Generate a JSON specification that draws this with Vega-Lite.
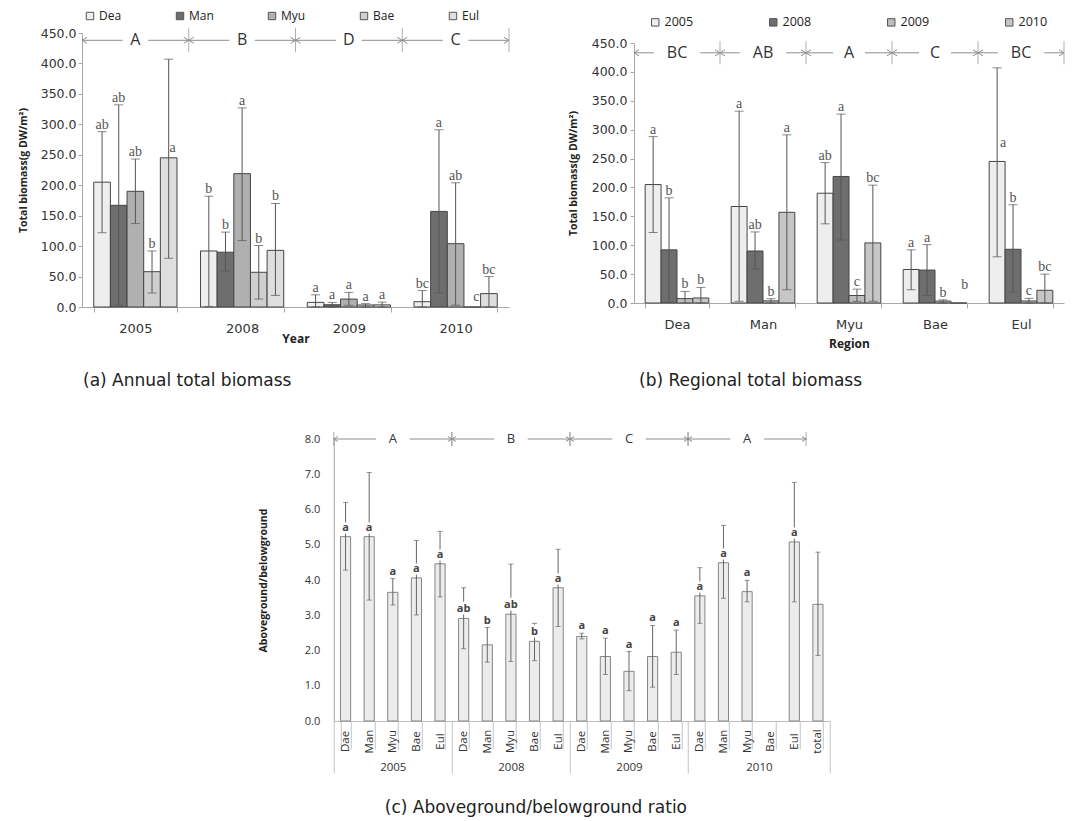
{
  "$schema": "https://vega.github.io/schema/vega-lite/v6.json",
  "background": "white",
  "padding": {"left": 18, "top": 10, "right": 10, "bottom": 5},
  "config": {
    "view": {"stroke": null},
    "axis": {"grid": false, "domainColor": "#a8a8a8", "tickColor": "#a8a8a8", "labelColor": "#333333", "titleColor": "#222222", "labelOverlap": false},
    "legend": {"padding": 0}
  },
  "datasets": {
    "biomass": [
      {"year": "2005", "region": "Dea", "mean": 205, "lo": 122, "hi": 288, "la": "ab", "lb": "a"},
      {"year": "2005", "region": "Man", "mean": 167, "lo": 3, "hi": 332, "la": "ab", "lb": "a"},
      {"year": "2005", "region": "Myu", "mean": 190, "lo": 137, "hi": 243, "la": "ab", "lb": "ab"},
      {"year": "2005", "region": "Bae", "mean": 58, "lo": 23, "hi": 92, "la": "b", "lb": "a"},
      {"year": "2005", "region": "Eul", "mean": 245, "lo": 80, "hi": 407, "la": "a", "lb": "a"},
      {"year": "2008", "region": "Dea", "mean": 92, "lo": 1, "hi": 182, "la": "b", "lb": "b"},
      {"year": "2008", "region": "Man", "mean": 90, "lo": 59, "hi": 123, "la": "b", "lb": "ab"},
      {"year": "2008", "region": "Myu", "mean": 219, "lo": 109, "hi": 327, "la": "a", "lb": "a"},
      {"year": "2008", "region": "Bae", "mean": 57, "lo": 13, "hi": 101, "la": "b", "lb": "a"},
      {"year": "2008", "region": "Eul", "mean": 93, "lo": 19, "hi": 170, "la": "b", "lb": "b"},
      {"year": "2009", "region": "Dea", "mean": 7.6, "lo": 0, "hi": 20, "la": "a", "lb": "b"},
      {"year": "2009", "region": "Man", "mean": 3.7, "lo": 0, "hi": 7.5, "la": "a", "lb": "b"},
      {"year": "2009", "region": "Myu", "mean": 13, "lo": 2.8, "hi": 24, "la": "a", "lb": "c"},
      {"year": "2009", "region": "Bae", "mean": 3.3, "lo": 0, "hi": 5.5, "la": "a", "lb": "b"},
      {"year": "2009", "region": "Eul", "mean": 3.5, "lo": 0, "hi": 8, "la": "a", "lb": "c"},
      {"year": "2010", "region": "Dea", "mean": 8.7, "lo": 0, "hi": 27, "la": "bc", "lb": "b"},
      {"year": "2010", "region": "Man", "mean": 157, "lo": 23, "hi": 291, "la": "a", "lb": "a"},
      {"year": "2010", "region": "Myu", "mean": 104, "lo": 3, "hi": 204, "la": "ab", "lb": "bc"},
      {"year": "2010", "region": "Bae", "mean": 0, "lo": null, "hi": null, "la": "c", "lb": "b"},
      {"year": "2010", "region": "Eul", "mean": 22, "lo": 0, "hi": 50, "la": "bc", "lb": "bc"}
    ],
    "ratio": [
      {"year": "2005", "region": "Dae", "cat": "2005 Dae", "mean": 5.23, "lo": 4.28, "hi": 6.2, "lt": "a"},
      {"year": "2005", "region": "Man", "cat": "2005 Man", "mean": 5.23, "lo": 3.43, "hi": 7.05, "lt": "a"},
      {"year": "2005", "region": "Myu", "cat": "2005 Myu", "mean": 3.65, "lo": 3.29, "hi": 4.04, "lt": "a"},
      {"year": "2005", "region": "Bae", "cat": "2005 Bae", "mean": 4.06, "lo": 3.01, "hi": 5.12, "lt": "a"},
      {"year": "2005", "region": "Eul", "cat": "2005 Eul", "mean": 4.46, "lo": 3.52, "hi": 5.38, "lt": "a"},
      {"year": "2008", "region": "Dae", "cat": "2008 Dae", "mean": 2.91, "lo": 2.05, "hi": 3.78, "lt": "ab"},
      {"year": "2008", "region": "Man", "cat": "2008 Man", "mean": 2.16, "lo": 1.67, "hi": 2.65, "lt": "b"},
      {"year": "2008", "region": "Myu", "cat": "2008 Myu", "mean": 3.03, "lo": 1.69, "hi": 4.45, "lt": "ab"},
      {"year": "2008", "region": "Bae", "cat": "2008 Bae", "mean": 2.26, "lo": 1.71, "hi": 2.77, "lt": "b"},
      {"year": "2008", "region": "Eul", "cat": "2008 Eul", "mean": 3.78, "lo": 2.68, "hi": 4.87, "lt": "a"},
      {"year": "2009", "region": "Dae", "cat": "2009 Dae", "mean": 2.4, "lo": 2.33, "hi": 2.49, "lt": "a"},
      {"year": "2009", "region": "Man", "cat": "2009 Man", "mean": 1.83, "lo": 1.32, "hi": 2.35, "lt": "a"},
      {"year": "2009", "region": "Myu", "cat": "2009 Myu", "mean": 1.41, "lo": 0.86, "hi": 1.97, "lt": "a"},
      {"year": "2009", "region": "Bae", "cat": "2009 Bae", "mean": 1.83, "lo": 0.96, "hi": 2.71, "lt": "a"},
      {"year": "2009", "region": "Eul", "cat": "2009 Eul", "mean": 1.95, "lo": 1.32, "hi": 2.58, "lt": "a"},
      {"year": "2010", "region": "Dae", "cat": "2010 Dae", "mean": 3.55, "lo": 2.77, "hi": 4.35, "lt": "a"},
      {"year": "2010", "region": "Man", "cat": "2010 Man", "mean": 4.49, "lo": 3.48, "hi": 5.55, "lt": "a"},
      {"year": "2010", "region": "Myu", "cat": "2010 Myu", "mean": 3.67, "lo": 3.38, "hi": 3.99, "lt": "a"},
      {"year": "2010", "region": "Bae", "cat": "2010 Bae", "mean": null, "lo": null, "hi": null, "lt": ""},
      {"year": "2010", "region": "Eul", "cat": "2010 Eul", "mean": 5.08, "lo": 3.38, "hi": 6.77, "lt": "a"},
      {"year": "", "region": "total", "cat": "total", "mean": 3.31, "lo": 1.86, "hi": 4.79, "lt": ""}
    ],
    "yearGroups": [
      {"g": "A", "s": 0, "e": 1, "c": 0.5},
      {"g": "B", "s": 1, "e": 2, "c": 1.5},
      {"g": "D", "s": 2, "e": 3, "c": 2.5},
      {"g": "C", "s": 3, "e": 4, "c": 3.5}
    ],
    "regionGroups": [
      {"g": "BC", "s": 0, "e": 1, "c": 0.5},
      {"g": "AB", "s": 1, "e": 2, "c": 1.5},
      {"g": "A", "s": 2, "e": 3, "c": 2.5},
      {"g": "C", "s": 3, "e": 4, "c": 3.5},
      {"g": "BC", "s": 4, "e": 5, "c": 4.5}
    ],
    "ratioGroups": [
      {"g": "A", "s": 0, "e": 5, "c": 2.5},
      {"g": "B", "s": 5, "e": 10, "c": 7.5},
      {"g": "C", "s": 10, "e": 15, "c": 12.5},
      {"g": "A", "s": 15, "e": 20, "c": 17.5}
    ]
  },
  "spacing": 42,
  "center": true,
  "vconcat": [
    {
      "spacing": 57,
      "resolve": {"scale": {"fill": "independent", "xOffset": "independent"}, "legend": {"fill": "independent"}},
      "hconcat": [
        {
          "width": 427,
          "height": 274,
          "title": {"text": "(a) Annual total biomass", "orient": "bottom", "anchor": "start", "frame": "group", "offset": 29, "dx": 1, "font": "DejaVu Sans", "fontSize": 17, "fontWeight": "normal", "color": "#222222"},
          "resolve": {"scale": {"x": "independent"}},
          "layer": [
            {
              "data": {"name": "biomass"},
              "encoding": {
                "x": {"field": "year", "type": "nominal",
                  "scale": {"domain": ["2005", "2008", "2009", "2010"], "paddingInner": 0.22, "paddingOuter": 0.11},
                  "axis": {"title": "Year", "labelAngle": 0, "tickBand": "extent", "tickSize": 5, "labelPadding": 10, "labelFont": "DejaVu Sans", "labelFontSize": 13, "titleFont": "Open Sans", "titleFontSize": 12, "titleFontWeight": "bold", "titlePadding": -2}},
                "xOffset": {"field": "region", "type": "nominal", "scale": {"domain": ["Dea", "Man", "Myu", "Bae", "Eul"], "paddingInner": 0, "paddingOuter": 0}}
              },
              "layer": [
                {
                  "mark": {"type": "bar", "stroke": "#444444", "strokeWidth": 1},
                  "encoding": {
                    "y": {"field": "mean", "type": "quantitative", "scale": {"domain": [0, 450], "nice": false},
                      "axis": {"title": "Total biomass(g DW/m²)", "values": [0, 50, 100, 150, 200, 250, 300, 350, 400, 450], "format": ".1f", "labelOverlap": false, "tickSize": 4, "labelPadding": 2, "labelFont": "DejaVu Sans", "labelFontSize": 12.5, "titleFont": "Open Sans", "titleFontSize": 10.5, "titleFontWeight": "bold", "titlePadding": 12}},
                    "fill": {"field": "region", "type": "nominal",
                      "scale": {"domain": ["Dea", "Man", "Myu", "Bae", "Eul"], "range": ["#eeeeee", "#6e6e6e", "#b0b0b0", "#cfcfcf", "#dedede"]},
                      "legend": {"orient": "none", "legendX": 2, "legendY": -23, "direction": "horizontal", "title": null, "symbolType": "square", "symbolSize": 55, "symbolStrokeColor": "#555555", "symbolStrokeWidth": 1, "labelFont": "Open Sans", "labelFontSize": 12, "labelOffset": 3, "columnPadding": 52, "labelColor": "#222222"}}
                  }
                },
                {
                  "transform": [{"filter": "datum.hi != null"}],
                  "mark": {"type": "rule", "color": "#555555", "strokeWidth": 1},
                  "encoding": {"y": {"field": "lo", "type": "quantitative", "axis": {"title": "Total biomass(g DW/m²)", "values": [0, 50, 100, 150, 200, 250, 300, 350, 400, 450], "format": ".1f", "labelOverlap": false, "tickSize": 4, "labelPadding": 2, "labelFont": "DejaVu Sans", "labelFontSize": 12.5, "titleFont": "Open Sans", "titleFontSize": 10.5, "titleFontWeight": "bold", "titlePadding": 12}}, "y2": {"field": "hi"}}
                },
                {
                  "transform": [{"filter": "datum.hi != null"}],
                  "mark": {"type": "tick", "color": "#555555", "size": 9, "thickness": 1},
                  "encoding": {"y": {"field": "hi", "type": "quantitative", "axis": {"title": "Total biomass(g DW/m²)", "values": [0, 50, 100, 150, 200, 250, 300, 350, 400, 450], "format": ".1f", "labelOverlap": false, "tickSize": 4, "labelPadding": 2, "labelFont": "DejaVu Sans", "labelFontSize": 12.5, "titleFont": "Open Sans", "titleFontSize": 10.5, "titleFontWeight": "bold", "titlePadding": 12}}}
                },
                {
                  "transform": [{"filter": "datum.hi != null"}],
                  "mark": {"type": "tick", "color": "#555555", "size": 9, "thickness": 1},
                  "encoding": {"y": {"field": "lo", "type": "quantitative", "axis": {"title": "Total biomass(g DW/m²)", "values": [0, 50, 100, 150, 200, 250, 300, 350, 400, 450], "format": ".1f", "labelOverlap": false, "tickSize": 4, "labelPadding": 2, "labelFont": "DejaVu Sans", "labelFontSize": 12.5, "titleFont": "Open Sans", "titleFontSize": 10.5, "titleFontWeight": "bold", "titlePadding": 12}}}
                },
                {
                  "transform": [{"filter": "datum.hi != null && !(datum.year == '2005' && datum.region == 'Eul')"}],
                  "mark": {"type": "text", "font": "Liberation Serif", "fontSize": 14, "color": "#555555", "baseline": "alphabetic", "dy": -3},
                  "encoding": {"y": {"field": "hi", "type": "quantitative", "axis": {"title": "Total biomass(g DW/m²)", "values": [0, 50, 100, 150, 200, 250, 300, 350, 400, 450], "format": ".1f", "labelOverlap": false, "tickSize": 4, "labelPadding": 2, "labelFont": "DejaVu Sans", "labelFontSize": 12.5, "titleFont": "Open Sans", "titleFontSize": 10.5, "titleFontWeight": "bold", "titlePadding": 12}}, "text": {"field": "la"}}
                },
                {
                  "transform": [{"filter": "datum.hi == null || (datum.year == '2005' && datum.region == 'Eul')"}],
                  "mark": {"type": "text", "font": "Liberation Serif", "fontSize": 14, "color": "#555555", "baseline": "alphabetic", "dy": -6, "dx": 4},
                  "encoding": {"y": {"field": "mean", "type": "quantitative", "axis": {"title": "Total biomass(g DW/m²)", "values": [0, 50, 100, 150, 200, 250, 300, 350, 400, 450], "format": ".1f", "labelOverlap": false, "tickSize": 4, "labelPadding": 2, "labelFont": "DejaVu Sans", "labelFontSize": 12.5, "titleFont": "Open Sans", "titleFontSize": 10.5, "titleFontWeight": "bold", "titlePadding": 12}}, "text": {"field": "la"}}
                }
              ]
            },
            {
              "data": {"name": "yearGroups"},
              "layer": [
                {
                  "mark": {"type": "rule", "color": "#8c8c8c", "strokeWidth": 1},
                  "encoding": {"x": {"field": "s", "type": "quantitative", "scale": {"domain": [0, 4], "nice": false, "zero": false}, "axis": null}, "x2": {"field": "e"}, "y": {"datum": 438, "type": "quantitative", "axis": {"title": "Total biomass(g DW/m²)", "values": [0, 50, 100, 150, 200, 250, 300, 350, 400, 450], "format": ".1f", "labelOverlap": false, "tickSize": 4, "labelPadding": 2, "labelFont": "DejaVu Sans", "labelFontSize": 12.5, "titleFont": "Open Sans", "titleFontSize": 10.5, "titleFontWeight": "bold", "titlePadding": 12}}}
                },
                {
                  "mark": {"type": "point", "shape": "M-1.6,-1H1.6V1H-1.6Z", "size": 256, "filled": true, "fill": "white", "strokeWidth": 0, "opacity": 1},
                  "encoding": {"x": {"field": "c", "type": "quantitative", "axis": null}, "y": {"datum": 438, "type": "quantitative", "axis": {"title": "Total biomass(g DW/m²)", "values": [0, 50, 100, 150, 200, 250, 300, 350, 400, 450], "format": ".1f", "labelOverlap": false, "tickSize": 4, "labelPadding": 2, "labelFont": "DejaVu Sans", "labelFontSize": 12.5, "titleFont": "Open Sans", "titleFontSize": 10.5, "titleFontWeight": "bold", "titlePadding": 12}}}
                },
                {
                  "mark": {"type": "point", "shape": "M1,-0.6L0,0L1,0.6", "filled": false, "size": 100, "stroke": "#8c8c8c", "strokeWidth": 1, "opacity": 1},
                  "encoding": {"x": {"field": "s", "type": "quantitative", "axis": null}, "y": {"datum": 438, "type": "quantitative", "axis": {"title": "Total biomass(g DW/m²)", "values": [0, 50, 100, 150, 200, 250, 300, 350, 400, 450], "format": ".1f", "labelOverlap": false, "tickSize": 4, "labelPadding": 2, "labelFont": "DejaVu Sans", "labelFontSize": 12.5, "titleFont": "Open Sans", "titleFontSize": 10.5, "titleFontWeight": "bold", "titlePadding": 12}}}
                },
                {
                  "mark": {"type": "point", "shape": "M-1,-0.6L0,0L-1,0.6", "filled": false, "size": 100, "stroke": "#8c8c8c", "strokeWidth": 1, "opacity": 1},
                  "encoding": {"x": {"field": "e", "type": "quantitative", "axis": null}, "y": {"datum": 438, "type": "quantitative", "axis": {"title": "Total biomass(g DW/m²)", "values": [0, 50, 100, 150, 200, 250, 300, 350, 400, 450], "format": ".1f", "labelOverlap": false, "tickSize": 4, "labelPadding": 2, "labelFont": "DejaVu Sans", "labelFontSize": 12.5, "titleFont": "Open Sans", "titleFontSize": 10.5, "titleFontWeight": "bold", "titlePadding": 12}}}
                },
                {
                  "mark": {"type": "tick", "orient": "vertical", "size": 24, "thickness": 1, "color": "#8c8c8c"},
                  "encoding": {"x": {"field": "e", "type": "quantitative", "axis": null}, "y": {"datum": 438, "type": "quantitative", "axis": {"title": "Total biomass(g DW/m²)", "values": [0, 50, 100, 150, 200, 250, 300, 350, 400, 450], "format": ".1f", "labelOverlap": false, "tickSize": 4, "labelPadding": 2, "labelFont": "DejaVu Sans", "labelFontSize": 12.5, "titleFont": "Open Sans", "titleFontSize": 10.5, "titleFontWeight": "bold", "titlePadding": 12}}}
                },
                {
                  "mark": {"type": "text", "font": "Open Sans", "fontSize": 16, "color": "#333333"},
                  "encoding": {"x": {"field": "c", "type": "quantitative", "axis": null}, "y": {"datum": 438, "type": "quantitative", "axis": {"title": "Total biomass(g DW/m²)", "values": [0, 50, 100, 150, 200, 250, 300, 350, 400, 450], "format": ".1f", "labelOverlap": false, "tickSize": 4, "labelPadding": 2, "labelFont": "DejaVu Sans", "labelFontSize": 12.5, "titleFont": "Open Sans", "titleFontSize": 10.5, "titleFontWeight": "bold", "titlePadding": 12}}, "text": {"field": "g"}}
                }
              ]
            }
          ]
        },
        {
          "width": 430,
          "height": 270,
          "title": {"text": "(b) Regional total biomass", "orient": "bottom", "anchor": "start", "frame": "group", "offset": 24, "dx": 5, "font": "DejaVu Sans", "fontSize": 17, "fontWeight": "normal", "color": "#222222"},
          "resolve": {"scale": {"x": "independent"}},
          "layer": [
            {
              "data": {"name": "biomass"},
              "encoding": {
                "x": {"field": "region", "type": "nominal",
                  "scale": {"domain": ["Dea", "Man", "Myu", "Bae", "Eul"], "paddingInner": 0.26, "paddingOuter": 0.13},
                  "axis": {"title": "Region", "labelAngle": 0, "tickBand": "extent", "tickSize": 5, "labelPadding": 10, "labelFont": "DejaVu Sans", "labelFontSize": 13, "titleFont": "Open Sans", "titleFontSize": 12, "titleFontWeight": "bold", "titlePadding": 7}},
                "xOffset": {"field": "year", "type": "nominal", "scale": {"domain": ["2005", "2008", "2009", "2010"], "paddingInner": 0, "paddingOuter": 0}}
              },
              "layer": [
                {
                  "mark": {"type": "bar", "stroke": "#444444", "strokeWidth": 1},
                  "encoding": {
                    "y": {"field": "mean", "type": "quantitative", "scale": {"domain": [0, 450], "nice": false, "rangeMax": 10},
                      "axis": {"title": "Total biomass(g DW/m²)", "values": [0, 50, 100, 150, 200, 250, 300, 350, 400, 450], "format": ".1f", "labelOverlap": false, "tickSize": 4, "labelPadding": 3, "labelFont": "DejaVu Sans", "labelFontSize": 12.5, "titleFont": "Open Sans", "titleFontSize": 10.5, "titleFontWeight": "bold", "titlePadding": 13}},
                    "fill": {"field": "year", "type": "nominal",
                      "scale": {"domain": ["2005", "2008", "2009", "2010"], "range": ["#eeeeee", "#6e6e6e", "#bdbdbd", "#c6c6c6"]},
                      "legend": {"orient": "none", "legendX": 15, "legendY": -17, "direction": "horizontal", "title": null, "symbolType": "square", "symbolSize": 55, "symbolStrokeColor": "#555555", "symbolStrokeWidth": 1, "labelFont": "Open Sans", "labelFontSize": 12.5, "labelOffset": 3, "columnPadding": 73, "labelColor": "#222222"}}
                  }
                },
                {
                  "transform": [{"filter": "datum.hi != null"}],
                  "mark": {"type": "rule", "color": "#555555", "strokeWidth": 1},
                  "encoding": {"y": {"field": "lo", "type": "quantitative", "axis": {"title": "Total biomass(g DW/m²)", "values": [0, 50, 100, 150, 200, 250, 300, 350, 400, 450], "format": ".1f", "labelOverlap": false, "tickSize": 4, "labelPadding": 3, "labelFont": "DejaVu Sans", "labelFontSize": 12.5, "titleFont": "Open Sans", "titleFontSize": 10.5, "titleFontWeight": "bold", "titlePadding": 13}}, "y2": {"field": "hi"}}
                },
                {
                  "transform": [{"filter": "datum.hi != null"}],
                  "mark": {"type": "tick", "color": "#555555", "size": 9, "thickness": 1},
                  "encoding": {"y": {"field": "hi", "type": "quantitative", "axis": {"title": "Total biomass(g DW/m²)", "values": [0, 50, 100, 150, 200, 250, 300, 350, 400, 450], "format": ".1f", "labelOverlap": false, "tickSize": 4, "labelPadding": 3, "labelFont": "DejaVu Sans", "labelFontSize": 12.5, "titleFont": "Open Sans", "titleFontSize": 10.5, "titleFontWeight": "bold", "titlePadding": 13}}}
                },
                {
                  "transform": [{"filter": "datum.hi != null"}],
                  "mark": {"type": "tick", "color": "#555555", "size": 9, "thickness": 1},
                  "encoding": {"y": {"field": "lo", "type": "quantitative", "axis": {"title": "Total biomass(g DW/m²)", "values": [0, 50, 100, 150, 200, 250, 300, 350, 400, 450], "format": ".1f", "labelOverlap": false, "tickSize": 4, "labelPadding": 3, "labelFont": "DejaVu Sans", "labelFontSize": 12.5, "titleFont": "Open Sans", "titleFontSize": 10.5, "titleFontWeight": "bold", "titlePadding": 13}}}
                },
                {
                  "transform": [{"filter": "datum.hi != null && !(datum.year == '2005' && datum.region == 'Eul')"}],
                  "mark": {"type": "text", "font": "Liberation Serif", "fontSize": 14, "color": "#555555", "baseline": "alphabetic", "dy": -3},
                  "encoding": {"y": {"field": "hi", "type": "quantitative", "axis": {"title": "Total biomass(g DW/m²)", "values": [0, 50, 100, 150, 200, 250, 300, 350, 400, 450], "format": ".1f", "labelOverlap": false, "tickSize": 4, "labelPadding": 3, "labelFont": "DejaVu Sans", "labelFontSize": 12.5, "titleFont": "Open Sans", "titleFontSize": 10.5, "titleFontWeight": "bold", "titlePadding": 13}}, "text": {"field": "lb"}}
                },
                {
                  "transform": [{"filter": "datum.hi == null || (datum.year == '2005' && datum.region == 'Eul')"}],
                  "mark": {"type": "text", "font": "Liberation Serif", "fontSize": 14, "color": "#555555", "baseline": "alphabetic", "dy": -14, "dx": 6},
                  "encoding": {"y": {"field": "mean", "type": "quantitative", "axis": {"title": "Total biomass(g DW/m²)", "values": [0, 50, 100, 150, 200, 250, 300, 350, 400, 450], "format": ".1f", "labelOverlap": false, "tickSize": 4, "labelPadding": 3, "labelFont": "DejaVu Sans", "labelFontSize": 12.5, "titleFont": "Open Sans", "titleFontSize": 10.5, "titleFontWeight": "bold", "titlePadding": 13}}, "text": {"field": "lb"}}
                }
              ]
            },
            {
              "data": {"name": "regionGroups"},
              "layer": [
                {
                  "mark": {"type": "rule", "color": "#8c8c8c", "strokeWidth": 1},
                  "encoding": {"x": {"field": "s", "type": "quantitative", "scale": {"domain": [0, 5], "nice": false, "zero": false}, "axis": null}, "x2": {"field": "e"}, "y": {"datum": 433, "type": "quantitative", "axis": {"title": "Total biomass(g DW/m²)", "values": [0, 50, 100, 150, 200, 250, 300, 350, 400, 450], "format": ".1f", "labelOverlap": false, "tickSize": 4, "labelPadding": 3, "labelFont": "DejaVu Sans", "labelFontSize": 12.5, "titleFont": "Open Sans", "titleFontSize": 10.5, "titleFontWeight": "bold", "titlePadding": 13}}}
                },
                {
                  "transform": [{"filter": "length(datum.g) == 1"}],
                  "mark": {"type": "point", "shape": "M-2,-1H2V1H-2Z", "size": 256, "filled": true, "fill": "white", "strokeWidth": 0, "opacity": 1},
                  "encoding": {"x": {"field": "c", "type": "quantitative", "axis": null}, "y": {"datum": 433, "type": "quantitative", "axis": {"title": "Total biomass(g DW/m²)", "values": [0, 50, 100, 150, 200, 250, 300, 350, 400, 450], "format": ".1f", "labelOverlap": false, "tickSize": 4, "labelPadding": 3, "labelFont": "DejaVu Sans", "labelFontSize": 12.5, "titleFont": "Open Sans", "titleFontSize": 10.5, "titleFontWeight": "bold", "titlePadding": 13}}}
                },
                {
                  "transform": [{"filter": "length(datum.g) > 1"}],
                  "mark": {"type": "point", "shape": "M-2.9,-1H2.9V1H-2.9Z", "size": 256, "filled": true, "fill": "white", "strokeWidth": 0, "opacity": 1},
                  "encoding": {"x": {"field": "c", "type": "quantitative", "axis": null}, "y": {"datum": 433, "type": "quantitative", "axis": {"title": "Total biomass(g DW/m²)", "values": [0, 50, 100, 150, 200, 250, 300, 350, 400, 450], "format": ".1f", "labelOverlap": false, "tickSize": 4, "labelPadding": 3, "labelFont": "DejaVu Sans", "labelFontSize": 12.5, "titleFont": "Open Sans", "titleFontSize": 10.5, "titleFontWeight": "bold", "titlePadding": 13}}}
                },
                {
                  "mark": {"type": "point", "shape": "M1,-0.6L0,0L1,0.6", "filled": false, "size": 100, "stroke": "#8c8c8c", "strokeWidth": 1, "opacity": 1},
                  "encoding": {"x": {"field": "s", "type": "quantitative", "axis": null}, "y": {"datum": 433, "type": "quantitative", "axis": {"title": "Total biomass(g DW/m²)", "values": [0, 50, 100, 150, 200, 250, 300, 350, 400, 450], "format": ".1f", "labelOverlap": false, "tickSize": 4, "labelPadding": 3, "labelFont": "DejaVu Sans", "labelFontSize": 12.5, "titleFont": "Open Sans", "titleFontSize": 10.5, "titleFontWeight": "bold", "titlePadding": 13}}}
                },
                {
                  "mark": {"type": "point", "shape": "M-1,-0.6L0,0L-1,0.6", "filled": false, "size": 100, "stroke": "#8c8c8c", "strokeWidth": 1, "opacity": 1},
                  "encoding": {"x": {"field": "e", "type": "quantitative", "axis": null}, "y": {"datum": 433, "type": "quantitative", "axis": {"title": "Total biomass(g DW/m²)", "values": [0, 50, 100, 150, 200, 250, 300, 350, 400, 450], "format": ".1f", "labelOverlap": false, "tickSize": 4, "labelPadding": 3, "labelFont": "DejaVu Sans", "labelFontSize": 12.5, "titleFont": "Open Sans", "titleFontSize": 10.5, "titleFontWeight": "bold", "titlePadding": 13}}}
                },
                {
                  "mark": {"type": "tick", "orient": "vertical", "size": 23, "thickness": 1, "color": "#8c8c8c"},
                  "encoding": {"x": {"field": "e", "type": "quantitative", "axis": null}, "y": {"datum": 433, "type": "quantitative", "axis": {"title": "Total biomass(g DW/m²)", "values": [0, 50, 100, 150, 200, 250, 300, 350, 400, 450], "format": ".1f", "labelOverlap": false, "tickSize": 4, "labelPadding": 3, "labelFont": "DejaVu Sans", "labelFontSize": 12.5, "titleFont": "Open Sans", "titleFontSize": 10.5, "titleFontWeight": "bold", "titlePadding": 13}}}
                },
                {
                  "mark": {"type": "text", "font": "Open Sans", "fontSize": 16, "color": "#333333"},
                  "encoding": {"x": {"field": "c", "type": "quantitative", "axis": null}, "y": {"datum": 433, "type": "quantitative", "axis": {"title": "Total biomass(g DW/m²)", "values": [0, 50, 100, 150, 200, 250, 300, 350, 400, 450], "format": ".1f", "labelOverlap": false, "tickSize": 4, "labelPadding": 3, "labelFont": "DejaVu Sans", "labelFontSize": 12.5, "titleFont": "Open Sans", "titleFontSize": 10.5, "titleFontWeight": "bold", "titlePadding": 13}}, "text": {"field": "g"}}
                }
              ]
            }
          ]
        }
      ]
    },
    {
      "width": 512,
      "height": 282,
      "title": {"text": "(c) Aboveground/belowground ratio", "orient": "bottom", "anchor": "start", "frame": "group", "offset": 26, "dx": 67, "font": "DejaVu Sans", "fontSize": 17, "fontWeight": "normal", "color": "#222222"},
      "resolve": {"scale": {"x": "independent"}},
      "layer": [
        {
          "data": {"name": "ratio"},
          "encoding": {
            "x": {"field": "cat", "type": "nominal",
              "scale": {"domain": ["2005 Dae", "2005 Man", "2005 Myu", "2005 Bae", "2005 Eul", "2008 Dae", "2008 Man", "2008 Myu", "2008 Bae", "2008 Eul", "2009 Dae", "2009 Man", "2009 Myu", "2009 Bae", "2009 Eul", "2010 Dae", "2010 Man", "2010 Myu", "2010 Bae", "2010 Eul", "total"], "range": [16, 512], "paddingInner": 0.57, "paddingOuter": 0.285},
              "axis": {"title": null, "orient": "bottom", "labelExpr": "peek(split(datum.label, ' '))", "labelAngle": -90, "labelAlign": "center", "labelBaseline": "middle", "tickBand": "extent", "tickSize": 28, "tickColor": "#c4c4c4", "domainColor": "#bdbdbd", "labelPadding": -8, "labelFont": "Open Sans", "labelFontSize": 11.5}}
          },
          "layer": [
            {
              "transform": [{"filter": "datum.mean != null"}],
              "mark": {"type": "bar", "fill": "#ececec", "stroke": "#858585", "strokeWidth": 1},
              "encoding": {
                "y": {"field": "mean", "type": "quantitative", "scale": {"domain": [0, 8], "nice": false},
                  "axis": {"title": "Aboveground/belowground", "offset": -16, "values": [0, 1, 2, 3, 4, 5, 6, 7, 8], "format": ".1f", "labelOverlap": false, "ticks": false, "labelPadding": 14, "labelFont": "Open Sans", "labelFontSize": 11, "titleFont": "Open Sans", "titleFontSize": 10.5, "titleFontWeight": "bold", "titlePadding": 36}}
              }
            },
            {
              "transform": [{"filter": "datum.mean != null"}],
              "mark": {"type": "rule", "color": "#666666", "strokeWidth": 1},
              "encoding": {"y": {"field": "lo", "type": "quantitative", "axis": {"title": "Aboveground/belowground", "offset": -16, "values": [0, 1, 2, 3, 4, 5, 6, 7, 8], "format": ".1f", "labelOverlap": false, "ticks": false, "labelPadding": 14, "labelFont": "Open Sans", "labelFontSize": 11, "titleFont": "Open Sans", "titleFontSize": 10.5, "titleFontWeight": "bold", "titlePadding": 36}}, "y2": {"field": "hi"}}
            },
            {
              "transform": [{"filter": "datum.mean != null"}],
              "mark": {"type": "tick", "color": "#666666", "size": 5, "thickness": 1},
              "encoding": {"y": {"field": "hi", "type": "quantitative", "axis": {"title": "Aboveground/belowground", "offset": -16, "values": [0, 1, 2, 3, 4, 5, 6, 7, 8], "format": ".1f", "labelOverlap": false, "ticks": false, "labelPadding": 14, "labelFont": "Open Sans", "labelFontSize": 11, "titleFont": "Open Sans", "titleFontSize": 10.5, "titleFontWeight": "bold", "titlePadding": 36}}}
            },
            {
              "transform": [{"filter": "datum.mean != null"}],
              "mark": {"type": "tick", "color": "#666666", "size": 5, "thickness": 1},
              "encoding": {"y": {"field": "lo", "type": "quantitative", "axis": {"title": "Aboveground/belowground", "offset": -16, "values": [0, 1, 2, 3, 4, 5, 6, 7, 8], "format": ".1f", "labelOverlap": false, "ticks": false, "labelPadding": 14, "labelFont": "Open Sans", "labelFontSize": 11, "titleFont": "Open Sans", "titleFontSize": 10.5, "titleFontWeight": "bold", "titlePadding": 36}}}
            },
            {
              "transform": [{"filter": "datum.lt != '' && datum.mean != null && datum.year != '2009' && datum.hi - datum.mean >= 0.5"}],
              "mark": {"type": "text", "font": "Open Sans", "fontSize": 11, "fontWeight": "bold", "fill": "white", "stroke": "white", "strokeWidth": 5, "strokeJoin": "round", "baseline": "alphabetic", "dy": -6},
              "encoding": {"y": {"field": "mean", "type": "quantitative", "axis": {"title": "Aboveground/belowground", "offset": -16, "values": [0, 1, 2, 3, 4, 5, 6, 7, 8], "format": ".1f", "labelOverlap": false, "ticks": false, "labelPadding": 14, "labelFont": "Open Sans", "labelFontSize": 11, "titleFont": "Open Sans", "titleFontSize": 10.5, "titleFontWeight": "bold", "titlePadding": 36}}, "text": {"field": "lt"}}
            },
            {
              "transform": [{"filter": "datum.lt != '' && datum.mean != null && datum.year != '2009' && datum.hi - datum.mean >= 0.5"}],
              "mark": {"type": "text", "font": "Open Sans", "fontSize": 11, "fontWeight": "bold", "color": "#444444", "baseline": "alphabetic", "dy": -6},
              "encoding": {"y": {"field": "mean", "type": "quantitative", "axis": {"title": "Aboveground/belowground", "offset": -16, "values": [0, 1, 2, 3, 4, 5, 6, 7, 8], "format": ".1f", "labelOverlap": false, "ticks": false, "labelPadding": 14, "labelFont": "Open Sans", "labelFontSize": 11, "titleFont": "Open Sans", "titleFontSize": 10.5, "titleFontWeight": "bold", "titlePadding": 36}}, "text": {"field": "lt"}}
            },
            {
              "transform": [{"filter": "datum.lt != '' && datum.mean != null && (datum.year == '2009' || datum.hi - datum.mean < 0.5)"}],
              "mark": {"type": "text", "font": "Open Sans", "fontSize": 11, "fontWeight": "bold", "color": "#444444", "baseline": "alphabetic", "dy": -4},
              "encoding": {"y": {"field": "hi", "type": "quantitative", "axis": {"title": "Aboveground/belowground", "offset": -16, "values": [0, 1, 2, 3, 4, 5, 6, 7, 8], "format": ".1f", "labelOverlap": false, "ticks": false, "labelPadding": 14, "labelFont": "Open Sans", "labelFontSize": 11, "titleFont": "Open Sans", "titleFontSize": 10.5, "titleFontWeight": "bold", "titlePadding": 36}}, "text": {"field": "lt"}}
            }
          ]
        },
        {
          "data": {"name": "ratioGroups"},
          "layer": [
            {
              "mark": {"type": "rule", "color": "#8c8c8c", "strokeWidth": 1},
              "encoding": {"x": {"field": "s", "type": "quantitative", "scale": {"domain": [0, 21], "range": [16, 512], "nice": false, "zero": false}, "axis": null}, "x2": {"field": "e"}, "y": {"datum": 8, "type": "quantitative", "axis": {"title": "Aboveground/belowground", "offset": -16, "values": [0, 1, 2, 3, 4, 5, 6, 7, 8], "format": ".1f", "labelOverlap": false, "ticks": false, "labelPadding": 14, "labelFont": "Open Sans", "labelFontSize": 11, "titleFont": "Open Sans", "titleFontSize": 10.5, "titleFontWeight": "bold", "titlePadding": 36}}}
            },
            {
              "mark": {"type": "point", "shape": "M-2.1,-1H2.1V1H-2.1Z", "size": 256, "filled": true, "fill": "white", "strokeWidth": 0, "opacity": 1},
              "encoding": {"x": {"field": "c", "type": "quantitative", "axis": null}, "y": {"datum": 8, "type": "quantitative", "axis": {"title": "Aboveground/belowground", "offset": -16, "values": [0, 1, 2, 3, 4, 5, 6, 7, 8], "format": ".1f", "labelOverlap": false, "ticks": false, "labelPadding": 14, "labelFont": "Open Sans", "labelFontSize": 11, "titleFont": "Open Sans", "titleFontSize": 10.5, "titleFontWeight": "bold", "titlePadding": 36}}}
            },
            {
              "mark": {"type": "point", "shape": "M1,-0.6L0,0L1,0.6", "filled": false, "size": 64, "stroke": "#8c8c8c", "strokeWidth": 1, "opacity": 1},
              "encoding": {"x": {"field": "s", "type": "quantitative", "axis": null}, "y": {"datum": 8, "type": "quantitative", "axis": {"title": "Aboveground/belowground", "offset": -16, "values": [0, 1, 2, 3, 4, 5, 6, 7, 8], "format": ".1f", "labelOverlap": false, "ticks": false, "labelPadding": 14, "labelFont": "Open Sans", "labelFontSize": 11, "titleFont": "Open Sans", "titleFontSize": 10.5, "titleFontWeight": "bold", "titlePadding": 36}}}
            },
            {
              "mark": {"type": "point", "shape": "M-1,-0.6L0,0L-1,0.6", "filled": false, "size": 64, "stroke": "#8c8c8c", "strokeWidth": 1, "opacity": 1},
              "encoding": {"x": {"field": "e", "type": "quantitative", "axis": null}, "y": {"datum": 8, "type": "quantitative", "axis": {"title": "Aboveground/belowground", "offset": -16, "values": [0, 1, 2, 3, 4, 5, 6, 7, 8], "format": ".1f", "labelOverlap": false, "ticks": false, "labelPadding": 14, "labelFont": "Open Sans", "labelFontSize": 11, "titleFont": "Open Sans", "titleFontSize": 10.5, "titleFontWeight": "bold", "titlePadding": 36}}}
            }
          ]
        },
        {
          "data": {"name": "ratioGroups"},
          "transform": [{"fold": ["s", "e"], "as": ["side", "edge"]}],
          "mark": {"type": "tick", "orient": "vertical", "size": 14, "thickness": 1, "color": "#8c8c8c"},
          "encoding": {
            "x": {"field": "edge", "type": "quantitative", "scale": {"domain": [0, 21], "range": [16, 512], "nice": false, "zero": false},
              "axis": {"orient": "bottom", "title": null, "values": [0, 5, 10, 15, 21], "labels": false, "domain": false, "tickSize": 52, "tickColor": "#c4c4c4"}},
            "y": {"datum": 8, "type": "quantitative", "axis": {"title": "Aboveground/belowground", "offset": -16, "values": [0, 1, 2, 3, 4, 5, 6, 7, 8], "format": ".1f", "labelOverlap": false, "ticks": false, "labelPadding": 14, "labelFont": "Open Sans", "labelFontSize": 11, "titleFont": "Open Sans", "titleFontSize": 10.5, "titleFontWeight": "bold", "titlePadding": 36}}
          }
        },
        {
          "data": {"name": "ratioGroups"},
          "mark": {"type": "text", "font": "Open Sans", "fontSize": 13, "color": "#333333"},
          "encoding": {
            "x": {"field": "c", "type": "quantitative", "scale": {"domain": [0, 21], "range": [16, 512], "nice": false, "zero": false},
              "axis": {"orient": "bottom", "title": null, "values": [2.5, 7.5, 12.5, 18], "labelExpr": "datum.value < 5 ? '2005' : datum.value < 10 ? '2008' : datum.value < 15 ? '2009' : '2010'", "ticks": false, "domain": false, "labelPadding": 40, "labelFont": "Open Sans", "labelFontSize": 11.5, "labelColor": "#333333"}},
            "y": {"datum": 8, "type": "quantitative", "axis": {"title": "Aboveground/belowground", "offset": -16, "values": [0, 1, 2, 3, 4, 5, 6, 7, 8], "format": ".1f", "labelOverlap": false, "ticks": false, "labelPadding": 14, "labelFont": "Open Sans", "labelFontSize": 11, "titleFont": "Open Sans", "titleFontSize": 10.5, "titleFontWeight": "bold", "titlePadding": 36}},
            "text": {"field": "g"}
          }
        }
      ]
    }
  ]
}
